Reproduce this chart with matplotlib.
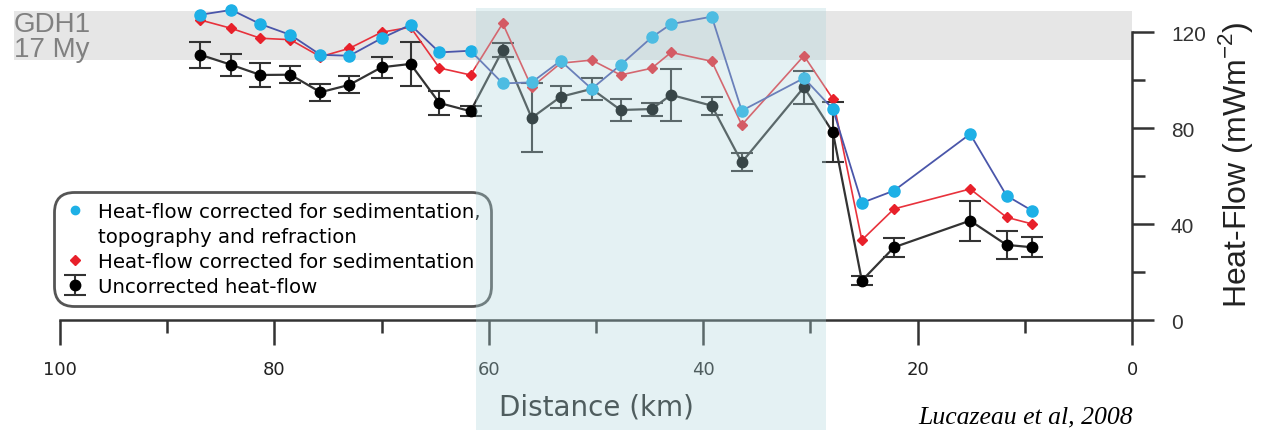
import matplotlib
matplotlib.use("Agg")
import matplotlib.pyplot as plt
from matplotlib.lines import Line2D

# distance along profile (km) and heat-flow values (mW m-2)
distance = [86.9, 84.0, 81.3, 78.5, 75.7, 73.0, 70.0, 67.3, 64.6, 61.7, 58.7, 56.0, 53.3,
            50.4, 47.7, 44.8, 43.0, 39.2, 36.4, 30.6, 27.9, 25.2, 22.2, 15.1, 11.7, 9.3]
hf_full = [127.2, 129.2, 123.3, 118.8, 110.5, 110.1, 117.4, 123.0, 111.5, 112.2, 98.6, 99.0, 108.0,
           96.3, 106.3, 117.8, 123.3, 126.4, 87.2, 100.8, 87.9, 48.8, 53.9, 77.5, 51.8, 45.5]
hf_sed = [125.0, 121.5, 117.4, 116.8, 109.7, 113.2, 119.9, 122.0, 105.0, 102.1, 123.6, 97.0, 107.0,
          108.3, 102.1, 104.9, 111.5, 107.8, 81.3, 110.1, 92.1, 33.3, 46.3, 54.6, 42.8, 40.0]
hf_raw = [110.5, 106.3, 102.1, 102.2, 94.9, 98.0, 105.3, 106.7, 90.4, 87.0, 112.5, 84.2, 93.0,
          96.3, 87.5, 87.9, 93.8, 89.3, 65.7, 97.0, 78.2, 16.4, 30.3, 41.4, 31.3, 30.3]
hf_err = [5.4, 4.5, 5.0, 3.5, 3.5, 3.5, 4.4, 9.0, 5.0, 2.0, 3.0, 14.4, 4.6,
          4.5, 4.5, 2.7, 10.8, 3.8, 3.7, 6.8, 12.5, 2.0, 3.9, 8.3, 5.9, 4.2]

gdh1_band = (108.3, 128.8)
shaded_zone = (61.2, 28.5)

fig = plt.figure(figsize=(12.62, 4.31), dpi=100)
ax = fig.add_axes([0.0475, 0.2552, 0.8495, 0.7239])

ax.set_xlim(100, 0)
ax.set_ylim(0, 130)

# grey band for GDH1 reference value
ax.axhspan(gdh1_band[0], gdh1_band[1], xmin=-0.043, xmax=1.0, color="#e6e6e6",
           zorder=0, clip_on=False, lw=0)

# uncorrected heat-flow with error bars
ax.plot(distance, hf_raw, color="#333333", lw=1.6, zorder=2)
eb = ax.errorbar(distance, hf_raw, yerr=hf_err, fmt="o", color="black", ms=7.5,
                 ecolor="#333333", elinewidth=1.5, capsize=8, capthick=1.5, zorder=2,
                 clip_on=False)

# corrected for sedimentation
ax.plot(distance, hf_sed, color="#e8323c", lw=1.2, zorder=3, clip_on=False)
red_pts, = ax.plot(distance, hf_sed, ls="none", marker="D", ms=5.5, color="#e8202a",
                   zorder=3, clip_on=False)

# corrected for sedimentation, topography and refraction
ax.plot(distance, hf_full, color="#4a56aa", lw=1.3, zorder=4, clip_on=False)
cyan_pts, = ax.plot(distance, hf_full, ls="none", marker="o", ms=8, color="#1eb0e6",
                    zorder=4, clip_on=False)

# spines and ticks
for s in ["left", "top"]:
    ax.spines[s].set_visible(False)
ax.spines["bottom"].set_bounds(100, 0)
ax.spines["right"].set_bounds(0, 120)
for s in ["bottom", "right"]:
    ax.spines[s].set_linewidth(1.8)
    ax.spines[s].set_color("#333333")

ax.set_xticks([100, 80, 60, 40, 20, 0])
ax.set_xticks([90, 70, 50, 30, 10], minor=True)
ax.tick_params(axis="x", which="major", direction="out", length=18, width=1.8,
               color="#333333", pad=11, labelsize=13, labelcolor="#222222")
ax.tick_params(axis="x", which="minor", direction="out", length=9, width=1.8, color="#333333")

ax.yaxis.tick_right()
ax.yaxis.set_label_position("right")
ax.set_yticks([0, 40, 80, 120])
ax.set_yticks([20, 60, 100], minor=True)
ax.tick_params(axis="y", which="major", direction="out", length=16, width=1.8,
               color="#333333", pad=12, labelsize=15, labelcolor="#333333")
ax.tick_params(axis="y", which="minor", direction="out", length=9, width=1.8, color="#333333")
for lab in ax.get_yticklabels():
    lab.set_family("Liberation Sans")

ax.set_xlabel("Distance (km)", fontsize=20, color="#222222", labelpad=10)
ax.set_ylabel("Heat-Flow (mWm$^{\\mathregular{-2}}$)", fontsize=23, color="#222222",
              labelpad=7, family="Liberation Sans")

# legend
blank = Line2D([], [], ls="none", marker="none")
leg = ax.legend([cyan_pts, blank, red_pts, eb],
                ["Heat-flow corrected for sedimentation,", "topography and refraction",
                 "Heat-flow corrected for sedimentation", "Uncorrected heat-flow"],
                loc="lower left", bbox_to_anchor=(-0.0056, 0.045), borderaxespad=0,
                fontsize=14.2, numpoints=1, handlelength=1.15, handletextpad=0.6,
                borderpad=0.5, labelspacing=0.3, frameon=True, fancybox=True)
frame = leg.get_frame()
frame.set_edgecolor("#555555")
frame.set_linewidth(2)
frame.set_alpha(1)
frame.set_boxstyle("round,pad=0,rounding_size=1.0")
leg.legend_handles[0].set_markersize(6)
leg.legend_handles[2].set_markersize(5)

# light blue highlight zone drawn over everything
ax.axvspan(shaded_zone[0], shaded_zone[1], ymin=-0.353, ymax=1.0, color=(0.68, 0.84, 0.86),
           alpha=0.33, lw=0, zorder=20, clip_on=False)

fig.text(0.011, 0.9258, "GDH1", fontsize=20, color="#808080", family="Liberation Sans")
fig.text(0.011, 0.8677, "17 My", fontsize=20, color="#808080", family="Liberation Sans")
fig.text(0.8978, 0.0186, "Lucazeau et al, 2008", fontsize=18.5, style="italic",
         family="Liberation Serif", ha="right", color="black")

fig.savefig("out.png", dpi=100)
